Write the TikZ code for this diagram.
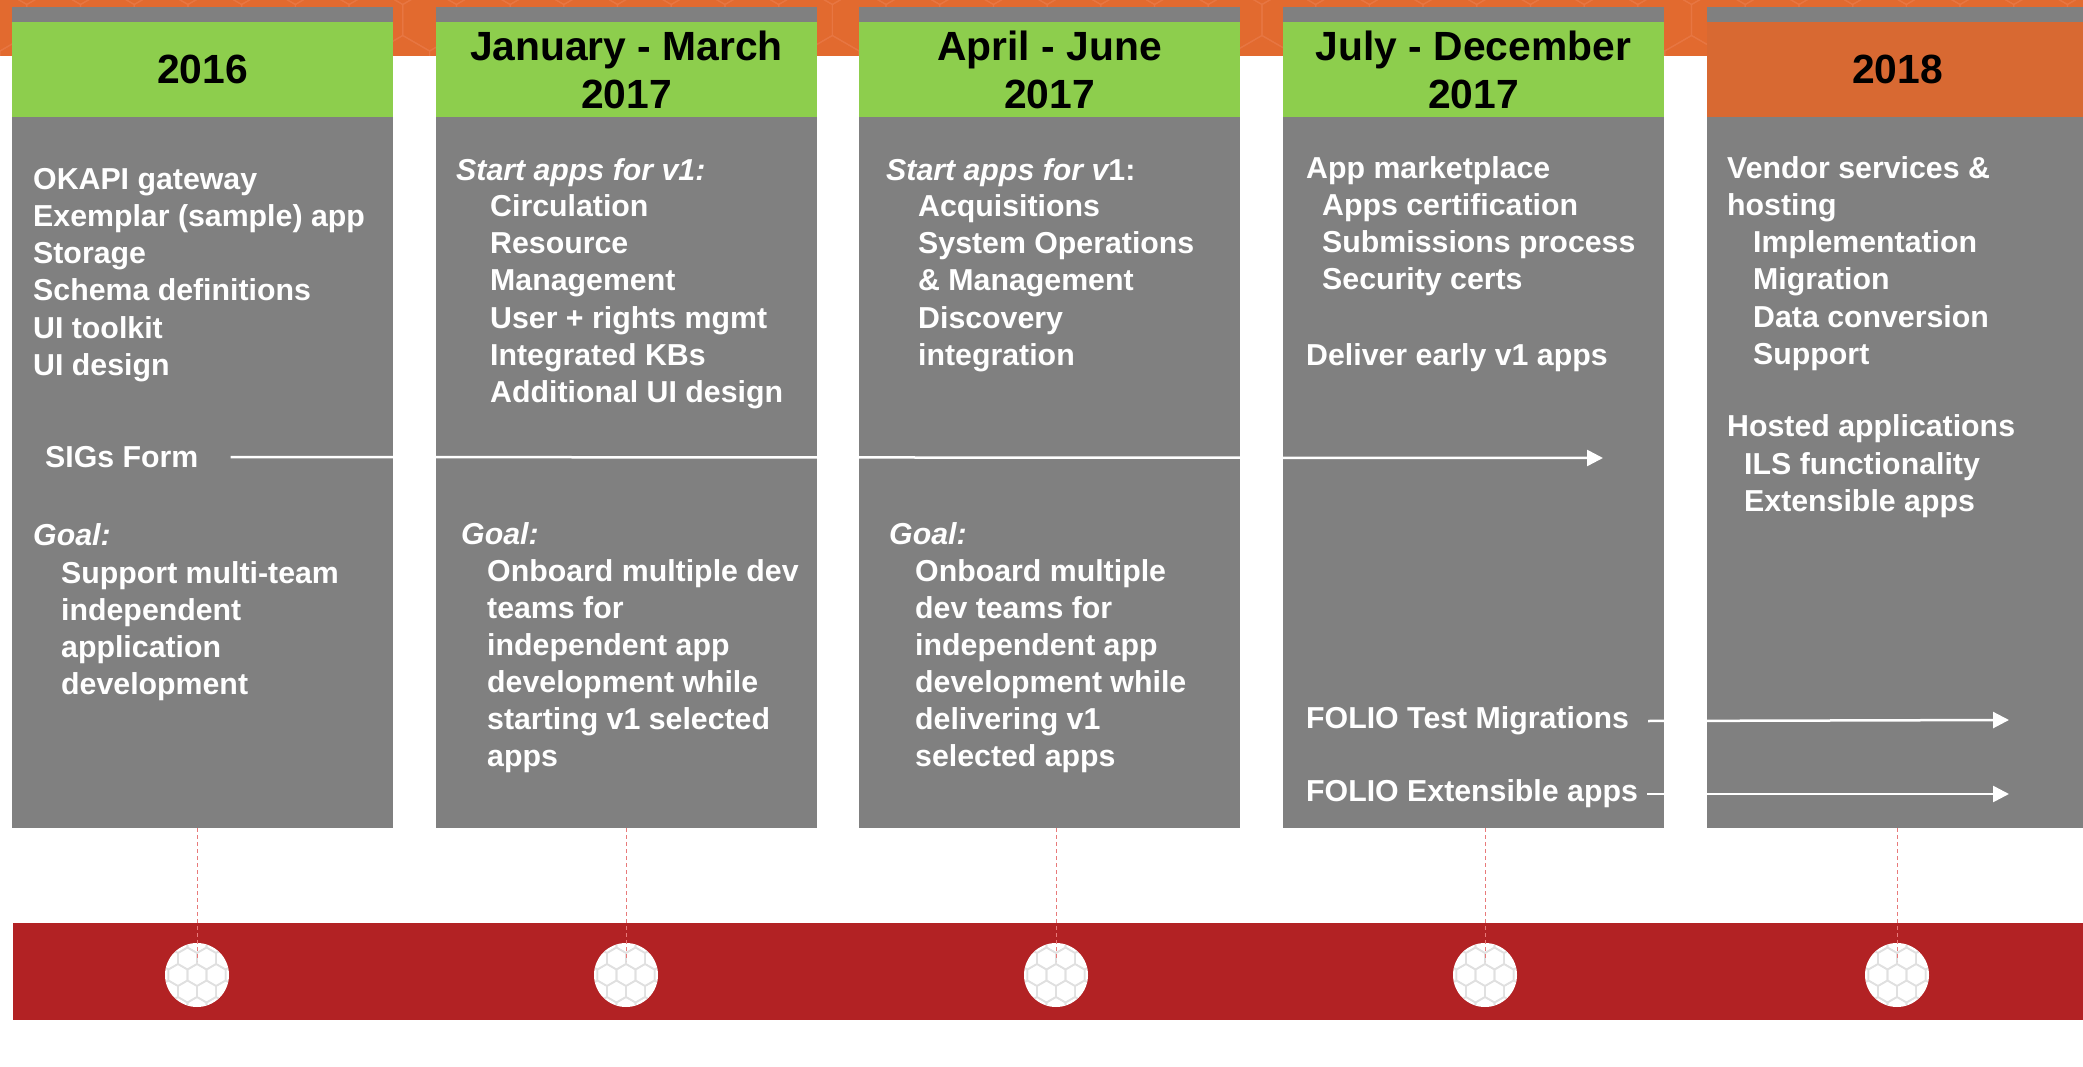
\documentclass[tikz,border=0pt]{standalone}
\usepackage{fontspec}
\setmainfont{Liberation Sans}
\usetikzlibrary{arrows.meta}
\definecolor{colgray}{RGB}{128,128,128}
\definecolor{hdrgreen}{RGB}{141,206,77}
\definecolor{hdrorange}{RGB}{216,105,50}
\definecolor{bandorange}{RGB}{226,106,47}
\definecolor{bandhex}{RGB}{231,118,66}
\definecolor{bandred}{RGB}{178,34,36}
\definecolor{dashred}{RGB}{232,122,122}
\definecolor{hexgray}{RGB}{224,224,224}
\newcommand\tlbody{\fontsize{30.3}{37}\selectfont\bfseries}
\newcommand\tlbodyit{\fontsize{30.3}{37}\selectfont\bfseries\itshape}
\newcommand\tlhdr{\fontsize{40.8}{48}\selectfont\bfseries}
\tikzset{
  colbox/.style={fill=colgray, draw=none, minimum width=381pt, minimum height=821pt, inner sep=0pt, outer sep=0pt},
  hdrbox/.style={minimum width=381pt, minimum height=95pt, inner sep=0pt, outer sep=0pt, font=\tlhdr, text=black, align=center},
  btxt/.style={text=white, font=\tlbody, inner sep=0pt, anchor=base west},
  itxt/.style={btxt, font=\tlbodyit},
  ltxt/.style={text=white, font=\tlbody, inner sep=0pt, anchor=west},
  warrow/.style={white, line width=2.5pt, -{Triangle[length=16pt,width=16pt]}},
  dashline/.style={dashred, line width=1pt, dash pattern=on 4pt off 3pt},
  marker/.style={circle, fill=white, draw=none, minimum size=64pt, inner sep=0pt},
  hexline/.style={hexgray, line width=1.6pt},
  bandhexline/.style={bandhex, line width=1.2pt}
}
\begin{document}
\begin{tikzpicture}[x=1pt,y=-1pt]
\useasboundingbox (0,0) rectangle (2083,1067);
\fill[white] (0,0) rectangle (2083,1067);
% top orange band
\fill[bandorange] (0,0) rectangle (2083,56);
\begin{scope}
  \clip (0,0) rectangle (2083,56);
  \foreach \j in {-1,...,2}{
    \foreach \i in {0,...,40}{
      \pgfmathsetmacro\hx{\i*53.7+mod(abs(\j),2)*26.85}
      \pgfmathsetmacro\hy{20+\j*46.5}
      \draw[bandhexline] (\hx,\hy) +(90:31) -- +(30:31) -- +(-30:31) -- +(-90:31) -- +(-150:31) -- +(150:31) -- cycle;
    }}
\end{scope}
% columns
\node[colbox] (c1) at (202.5,417.5) {};
\node[colbox] (c2) at (626.5,417.5) {};
\node[colbox] (c3) at (1049.5,417.5) {};
\node[colbox] (c4) at (1473.5,417.5) {};
\node[colbox] (c5) at (1897.5,417.5) {};
% headers
\node[hdrbox, fill=hdrgreen] (h1) at (202.5,69.5) {2016};
\node[hdrbox, fill=hdrgreen] (h2) at (626.5,69.5) {January - March\\2017};
\node[hdrbox, fill=hdrgreen] (h3) at (1049.5,69.5) {April - June\\2017};
\node[hdrbox, fill=hdrgreen] (h4) at (1473.5,69.5) {July - December\\2017};
\node[hdrbox, fill=hdrorange] (h5) at (1897.5,69.5) {2018};
% column 1
\foreach \t [count=\k from 0] in {OKAPI gateway, Exemplar (sample) app, Storage, Schema definitions, UI toolkit, UI design}
  \node[btxt] (a\k) at (33,{190+37*\k}) {\t};
\node[ltxt] (sigs) at (45,457) {SIGs Form};
\node[itxt] (goala) at (33,545) {Goal:};
\foreach \t [count=\k from 0] in {Support multi-team, independent, application, development}
  \node[btxt] (ga\k) at (61,{583+37*\k}) {\t};
% column 2
\node[itxt] (startb) at (456,181) {Start apps for v1:};
\foreach \t [count=\k from 0] in {Circulation, Resource, Management, User + rights mgmt, Integrated KBs, Additional UI design}
  \node[btxt] (b\k) at (490,{217+37*\k}) {\t};
\node[itxt] (goalb) at (461,544) {Goal:};
\foreach \t [count=\k from 0] in {Onboard multiple dev, teams for, independent app, development while, starting v1 selected, apps}
  \node[btxt] (gb\k) at (487,{581+37*\k}) {\t};
% column 3
\node[btxt] (startc) at (886,181) {{\itshape Start apps for v}1:};
\foreach \t [count=\k from 0] in {Acquisitions, System Operations, \& Management, Discovery, integration}
  \node[btxt] (cc\k) at (918,{217+37*\k}) {\t};
\node[itxt] (goalc) at (889,544) {Goal:};
\foreach \t [count=\k from 0] in {Onboard multiple, dev teams for, independent app, development while, delivering v1, selected apps}
  \node[btxt] (gc\k) at (915,{581+37*\k}) {\t};
% column 4
\node[btxt] (mkt) at (1306,179) {App marketplace};
\foreach \t [count=\k from 0] in {Apps certification, Submissions process, Security certs}
  \node[btxt] (d\k) at (1322,{216+37*\k}) {\t};
\node[btxt] (early) at (1306,365) {Deliver early v1 apps};
\node[ltxt] (testmig) at (1306,721) {FOLIO Test Migrations};
\node[ltxt] (extapps) at (1306,794) {FOLIO Extensible apps};
% column 5
\node[btxt] (vendor) at (1727,179) {Vendor services \&};
\node[btxt] (hosting) at (1727,216) {hosting};
\foreach \t [count=\k from 0] in {Implementation, Migration, Data conversion, Support}
  \node[btxt] (e\k) at (1753,{253+37*\k}) {\t};
\node[btxt] (hosted) at (1727,436) {Hosted applications};
\foreach \t [count=\k from 0] in {ILS functionality, Extensible apps}
  \node[btxt] (f\k) at (1744,{474+37*\k}) {\t};
% arrows
\coordinate (sigsend) at (1603,458);
\coordinate (testend) at (2009,720);
\coordinate (extend) at (2009,794);
\draw[warrow] ([xshift=32pt]sigs.east) -- (sigsend);
\draw[warrow] ([xshift=19pt]testmig.east) -- (testend);
\draw[warrow] ([xshift=9pt]extapps.east) -- (extend);
% bottom red band
\node[fill=bandred, minimum width=2077pt, minimum height=97pt, inner sep=0pt, outer sep=0pt] (band) at (1051.5,971.5) {};
\node[marker] (k1) at (197,975) {};
\node[marker] (k2) at (626,975) {};
\node[marker] (k3) at (1056,975) {};
\node[marker] (k4) at (1485,975) {};
\node[marker] (k5) at (1897,975) {};
\foreach \cx in {197,626,1056,1485,1897}{
  \begin{scope}
    \clip (\cx,975) circle[radius=31.5];
    \foreach \j in {-3,...,3}{
      \foreach \i in {-3,...,3}{
        \pgfmathsetmacro\hx{\cx+\i*19.05+mod(abs(\j),2)*9.53}
        \pgfmathsetmacro\hy{975+\j*16.5}
        \draw[hexline] (\hx,\hy) +(90:11) -- +(30:11) -- +(-30:11) -- +(-90:11) -- +(-150:11) -- +(150:11) -- cycle;
      }}
  \end{scope}}
% dashed connectors
\draw[dashline, shorten >=14pt] (c1.south -| k1) -- (k1.center);
\draw[dashline, shorten >=14pt] (c2.south -| k2) -- (k2.center);
\draw[dashline, shorten >=14pt] (c3.south -| k3) -- (k3.center);
\draw[dashline, shorten >=14pt] (c4.south -| k4) -- (k4.center);
\draw[dashline, shorten >=14pt] (c5.south -| k5) -- (k5.center);
\end{tikzpicture}
\end{document}
